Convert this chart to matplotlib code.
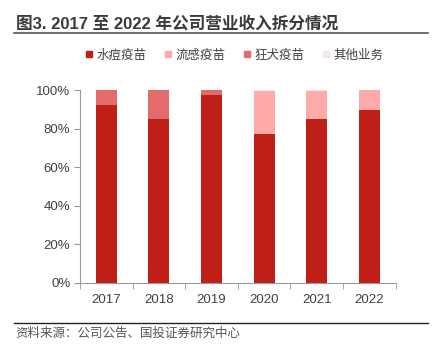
import numpy as np
import matplotlib
matplotlib.use("Agg")
import matplotlib.pyplot as plt
from matplotlib.lines import Line2D

plt.rcParams['font.family'] = ['Liberation Sans', 'Noto Sans CJK SC', 'DejaVu Sans']

# 数据（读图估计，单位：占比）
years = ['2017', '2018', '2019', '2020', '2021', '2022']
shuidou = [0.922, 0.850, 0.972, 0.770, 0.850, 0.896]   # 水痘疫苗
liugan = [0.000, 0.000, 0.000, 0.226, 0.144, 0.104]    # 流感疫苗
kuangquan = [0.078, 0.150, 0.026, 0.000, 0.000, 0.000]  # 狂犬疫苗
qita = [0.000, 0.000, 0.002, 0.004, 0.006, 0.000]       # 其他业务

names = ['水痘疫苗', '流感疫苗', '狂犬疫苗', '其他业务']
colors = ['#C01F17', '#FFAAAA', '#E46B6B', '#F7E8E8']

fig = plt.figure(figsize=(4.4, 3.58), dpi=100)
ax = fig.add_axes([0.182, 0.2095, 0.717, 0.539])

x = np.arange(len(years))
bottom = np.zeros(len(years))
for vals, c in zip([shuidou, liugan, kuangquan, qita], colors):
    ax.bar(x, vals, 0.4, bottom=bottom, color=c, edgecolor='none')
    bottom = bottom + np.array(vals)

ax.set_xlim(-0.5, len(years) - 0.5)
ax.set_ylim(0, 1)
ax.set_yticks(np.arange(0, 1.01, 0.2))
ax.set_yticklabels(['%d%%' % v for v in range(0, 101, 20)])
ax.set_xticks(x)
ax.set_xticklabels(years)
ax.set_xticks(np.arange(-0.5, len(years), 1), minor=True)
ax.tick_params(axis='x', which='major', length=0, pad=8, labelsize=9.5, labelcolor='#404040')
ax.tick_params(axis='x', which='minor', length=4, color='#999999')
ax.tick_params(axis='y', length=4, color='#999999', labelsize=9.5, labelcolor='#404040', pad=3)
for s in ['top', 'right']:
    ax.spines[s].set_visible(False)
for s in ['left', 'bottom']:
    ax.spines[s].set_color('#999999')
    ax.spines[s].set_linewidth(0.8)

# 图例
handles = [Line2D([0], [0], marker='s', linestyle='none', markersize=4.5,
                  markerfacecolor=c, markeredgecolor=c) for c in colors]
fig.legend(handles, names, loc='center', bbox_to_anchor=(0.53, 0.845), ncol=4,
           frameon=False, fontsize=9, handletextpad=0.1, columnspacing=1.2,
           handlelength=1.0, labelcolor='#404040')

# 标题和注释
fig.text(0.036, 0.935, '图3. 2017 至 2022 年公司营业收入拆分情况', fontsize=12,
         fontweight='bold', color='#3a3a3a', va='center', ha='left')
fig.add_artist(Line2D([0.032, 0.973], [0.907, 0.907], color='#555555', lw=1.2))
fig.add_artist(Line2D([0.032, 0.973], [0.098, 0.098], color='#222222', lw=1.0))
fig.text(0.036, 0.068, '资料来源：公司公告、国投证券研究中心', fontsize=9,
         color='#555555', va='center', ha='left', style='italic')

fig.savefig('out.png', dpi=100)
